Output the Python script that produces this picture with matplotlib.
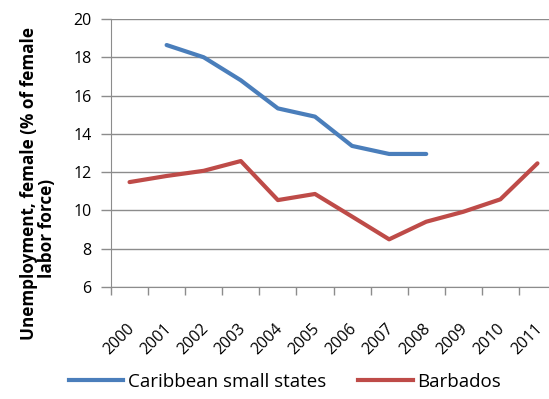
import matplotlib.pyplot as plt
from matplotlib.lines import Line2D

years = ['2000', '2001', '2002', '2003', '2004', '2005',
         '2006', '2007', '2008', '2009', '2010', '2011']
caribbean = [None, 18.64, 18.0, 16.8, 15.33, 14.9, 13.37, 12.95, 12.95, None, None, None]
barbados = [11.48, 11.8, 12.07, 12.58, 10.54, 10.86, 9.68, 8.49, 9.41, 9.93, 10.58, 12.46]

blue = '#4A7EBB'
red = '#BE4B48'
grid = '#8C8C8C'

plt.rcParams['font.family'] = ['Open Sans', 'DejaVu Sans']

fig = plt.figure(figsize=(5.49, 3.99), dpi=100)
W, H = 549, 399
# plot area runs a bit past the right edge of the canvas
ax = fig.add_axes([111 / W, 1 - 287 / H, (556 - 111) / W, (287 - 19) / H])

x = list(range(len(years)))
cx = [i for i, v in zip(x, caribbean) if v is not None]
cy = [v for v in caribbean if v is not None]
ax.plot(cx, cy, color=blue, lw=3, solid_capstyle='round', solid_joinstyle='round', zorder=3)
ax.plot(x, barbados, color=red, lw=3, solid_capstyle='round', solid_joinstyle='round', zorder=3)

ax.set_xlim(-0.5, len(years) - 0.5)
ax.set_ylim(6, 20)
ax.set_yticks(range(6, 21, 2))
ax.yaxis.grid(True, color=grid, lw=1)
ax.set_axisbelow(True)

# boundary ticks as major, year labels on minor ticks
ax.set_xticks([i - 0.5 for i in range(len(years) + 1)], minor=False)
ax.set_xticklabels([])
ax.set_xticks([i - 0.09 for i in x], minor=True)
ax.set_xticklabels(years, minor=True, rotation=45, ha='right', va='top',
                   rotation_mode='anchor', fontsize=11.5)
ax.tick_params(axis='x', which='major', length=6, color=grid, width=1)
ax.tick_params(axis='x', which='minor', length=0, pad=24)
ax.tick_params(axis='y', length=7, color=grid, width=1, labelsize=11.5, pad=7)

for side in ['top', 'right']:
    ax.spines[side].set_visible(False)
ax.spines['left'].set_color(grid)
ax.spines['bottom'].set_color(grid)

fig.text(29 / W, 1 - 184 / H, 'Unemployment, female (% of female',
         rotation=90, ha='center', va='center', fontsize=12.3, fontweight='bold')
fig.text(47 / W, 1 - 228 / H, 'labor force)',
         rotation=90, ha='center', va='center', fontsize=12.3, fontweight='bold')

handles = [Line2D([], [], color=blue, lw=3), Line2D([], [], color=red, lw=3)]
fig.legend(handles, ['Caribbean small states', 'Barbados'], loc='center',
           bbox_to_anchor=(285 / W, 1 - 382 / H), ncol=2, frameon=False,
           fontsize=13.5, handlelength=2.9, handletextpad=0.25, columnspacing=1.7)

fig.savefig('out.png', dpi=100)
